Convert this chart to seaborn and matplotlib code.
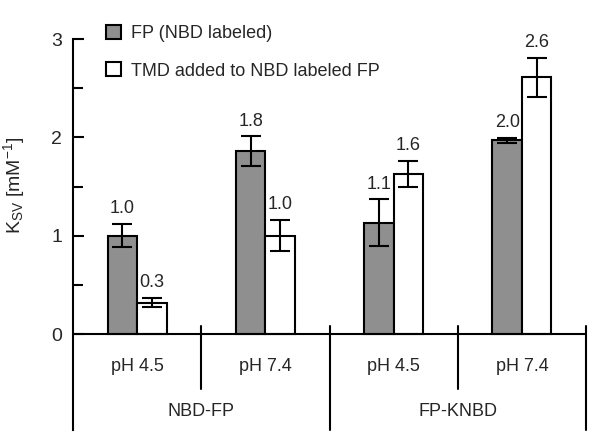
import matplotlib
matplotlib.use("Agg")
import matplotlib.pyplot as plt
import seaborn as sns
import pandas as pd
import numpy as np
from matplotlib.patches import Patch

# ---- data ----
subgroups = ["pH 4.5", "pH 7.4", "pH 4.5", "pH 7.4"]
groups = ["NBD-FP", "FP-KNBD"]
series = ["FP (NBD labeled)", "TMD added to NBD labeled FP"]
fp_values = [1.00, 1.86, 1.13, 1.97]
fp_errors = [0.12, 0.15, 0.24, 0.025]
tmd_values = [0.32, 1.00, 1.63, 2.61]
tmd_errors = [0.045, 0.16, 0.13, 0.20]
fp_labels = ["1.0", "1.8", "1.1", "2.0"]
tmd_labels = ["0.3", "1.0", "1.6", "2.6"]

sns.set_theme(style="white")
FAM = "Liberation Sans"
FS = 13
plt.rcParams["font.family"] = [FAM, "DejaVu Sans"]
plt.rcParams["mathtext.fontset"] = "custom"
plt.rcParams["mathtext.rm"] = FAM
plt.rcParams["mathtext.it"] = FAM

cats = [f"c{i}" for i in range(len(subgroups))]
df = pd.DataFrame({
    "cat": cats * 2,
    "series": [series[0]] * 4 + [series[1]] * 4,
    "value": fp_values + tmd_values,
})

fig = plt.figure(figsize=(6.0, 4.44), dpi=100)
ax = fig.add_axes([73 / 600, 1 - 430 / 444, 513 / 600, (430 - 39) / 444])

colors = {series[0]: "#8f8f8f", series[1]: "#ffffff"}
sns.barplot(data=df, x="cat", y="value", hue="series", order=cats,
            hue_order=series, palette=colors, width=0.46, gap=0,
            edgecolor="black", linewidth=1.5, errorbar=None, ax=ax,
            legend=False, saturation=1)

# error bars and value labels
patches = ax.patches
n = len(cats)
all_vals = [fp_values, tmd_values]
all_errs = [fp_errors, tmd_errors]
all_labs = [fp_labels, tmd_labels]
for s in range(2):
    for i in range(n):
        p = patches[s * n + i]
        xc = p.get_x() + p.get_width() / 2
        v, e = all_vals[s][i], all_errs[s][i]
        ax.errorbar(xc, v, yerr=e, fmt="none", ecolor="black",
                    elinewidth=1.5, capsize=7, capthick=1.5, zorder=5)
        ax.annotate(all_labs[s][i], (xc, v + e), xytext=(0, 11),
                    textcoords="offset points", ha="center", va="center",
                    fontsize=FS)

ax.set_xlim(-0.5, 3.5)
ax.set_ylim(-0.976, 3.0)
for sp in ["top", "right", "bottom"]:
    ax.spines[sp].set_visible(False)
ax.spines["left"].set_linewidth(1.5)
ax.spines["left"].set_color("black")
ax.axhline(0, color="black", linewidth=1.5, zorder=6)

ax.set_yticks([0, 1, 2, 3])
ax.set_yticks([0.5, 1.5, 2.5], minor=True)
ax.tick_params(axis="y", which="both", direction="in", left=True,
               width=1.5, color="black", labelsize=FS + 1, pad=8)
ax.tick_params(axis="y", which="major", length=8)
ax.tick_params(axis="y", which="minor", length=7)
ax.set_xticks([])
ax.set_xlabel("")

# separators
for xb in [0.5, 2.5]:
    ax.plot([xb, xb], [0.08, -0.56], color="black", linewidth=1.5,
            clip_on=False)
for xb in [1.5, 3.5]:
    ax.plot([xb, xb], [0.08, -0.976], color="black", linewidth=1.5,
            clip_on=False)

for i, lab in enumerate(subgroups):
    ax.text(i, -0.335, lab, ha="center", va="center", fontsize=FS)
for g, lab in enumerate(groups):
    ax.text(0.5 + 2 * g, -0.79, lab, ha="center", va="center", fontsize=FS)

ax.set_ylabel(r"K$_{\mathregular{SV}}$ [mM$^{\mathregular{-1}}$]", fontsize=FS + 1)
ax.yaxis.set_label_coords(-0.09, 0.625)

handles = [Patch(facecolor=colors[s], edgecolor="black", linewidth=1.5)
           for s in series]
fig.legend(handles, series, loc="upper left",
           bbox_to_anchor=(106 / 600, 1 - 25 / 444),
           frameon=False, fontsize=FS, handlelength=0.83, handleheight=0.83,
           handletextpad=0.55, labelspacing=1.1, borderpad=0,
           borderaxespad=0)

fig.savefig("out.png", dpi=100)
